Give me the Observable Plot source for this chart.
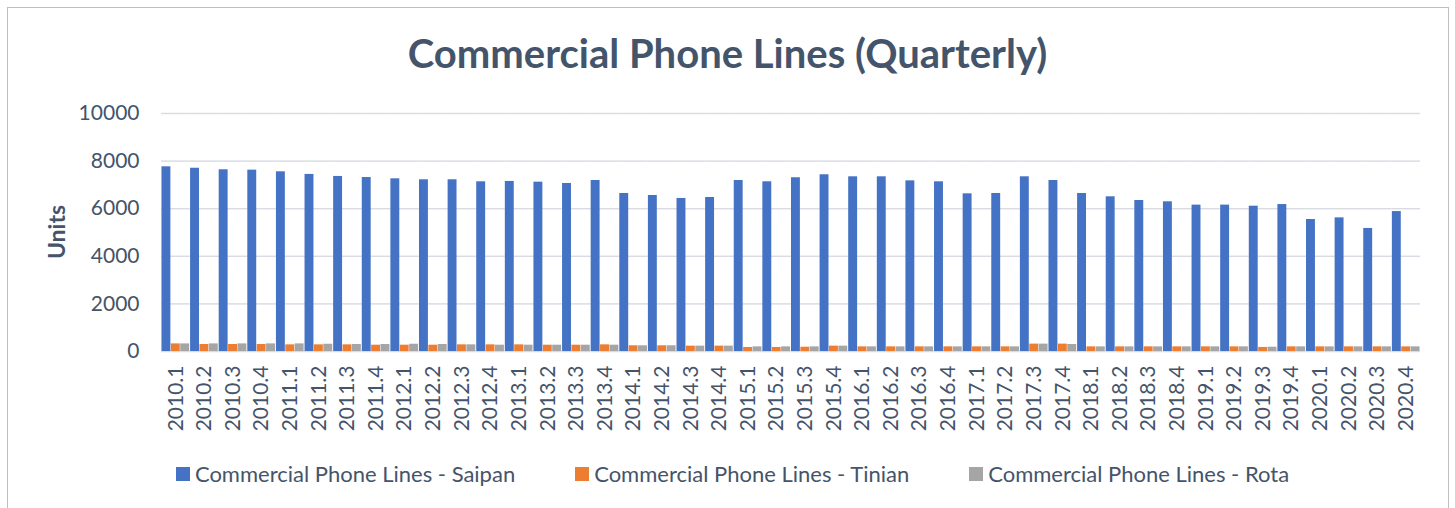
<!DOCTYPE html>
<html>
<head>
<meta charset="utf-8">
<script src="https://cdn.jsdelivr.net/npm/d3@7"></script>
<script src="https://cdn.jsdelivr.net/npm/@observablehq/plot@0.6"></script>
<style>
  body { margin: 0; background: #fff; font-family: Lato, sans-serif; }
  #frame { position: absolute; left: 7px; top: 7px; width: 1440px; height: 520px; border: 1.5px solid #bfbfbf; }
  #title { position: absolute; left: 0; top: 29px; width: 1455px; text-align: center; font-size: 40px; font-weight: bold; color: #44546a; }
  #chart { position: absolute; left: 0; top: 90px; }
  #units { position: absolute; left: 56px; top: 232px; transform: translate(-50%, -50%) rotate(-90deg); font-size: 23px; font-weight: bold; color: #44546a; white-space: nowrap; }
  #legend { position: absolute; left: 5px; top: 460px; width: 1455px; display: flex; justify-content: center; gap: 60px; font-size: 22px; color: #44546a; }
  .item { display: flex; align-items: center; white-space: nowrap; }
  .sw { width: 14px; height: 14px; margin-right: 5px; }
</style>
</head>
<body>
<div id="frame"></div>
<div id="title">Commercial Phone Lines (Quarterly)</div>
<div id="units">Units</div>
<div id="chart"></div>
<div id="legend"></div>
<script>
const categories = ["2010.1","2010.2","2010.3","2010.4","2011.1","2011.2","2011.3","2011.4",
  "2012.1","2012.2","2012.3","2012.4","2013.1","2013.2","2013.3","2013.4",
  "2014.1","2014.2","2014.3","2014.4","2015.1","2015.2","2015.3","2015.4",
  "2016.1","2016.2","2016.3","2016.4","2017.1","2017.2","2017.3","2017.4",
  "2018.1","2018.2","2018.3","2018.4","2019.1","2019.2","2019.3","2019.4",
  "2020.1","2020.2","2020.3","2020.4"];
const seriesNames = ["Commercial Phone Lines - Saipan","Commercial Phone Lines - Tinian","Commercial Phone Lines - Rota"];
const seriesColors = ["#4472c4","#ed7d31","#a5a5a5"];
const saipan = [7760,7700,7635,7620,7550,7440,7355,7310,7255,7215,7215,7130,7145,7115,7060,7185,
  6640,6555,6430,6470,7185,7130,7300,7425,7340,7340,7170,7130,6625,6640,7340,7185,
  6640,6500,6345,6290,6150,6150,6105,6175,5545,5615,5170,5880];
const tinian = [320,295,295,295,280,280,280,265,265,265,280,280,280,265,265,280,
  240,240,225,225,170,170,180,225,195,195,195,195,195,195,310,310,
  195,195,195,195,195,195,170,195,195,195,195,195];
const rota = [320,320,320,320,320,305,295,295,305,295,280,265,265,265,265,265,
  240,240,225,225,195,195,195,225,195,195,195,195,195,195,310,295,
  195,195,195,195,195,195,180,195,195,195,195,195];
const yTicks = [0,2000,4000,6000,8000,10000];

const seriesValues = [saipan, tinian, rota];
const rows = categories.flatMap((c, i) => seriesNames.map((s, k) => ({cat: c, series: s, value: seriesValues[k][i]})));

const chart = Plot.plot({
  width: 1455, height: 351,
  marginLeft: 161, marginRight: 35, marginTop: 23, marginBottom: 90,
  style: {fontFamily: "Lato, sans-serif", fontSize: "21px", color: "#44546a", background: "transparent"},
  fx: {domain: categories, padding: 0, round: false, label: null, tickRotate: -90, tickSize: 0, tickPadding: 14},
  x: {domain: seriesNames, padding: 0.05, round: false, axis: null},
  y: {domain: [0, 10000], ticks: yTicks, tickFormat: d3.format("d"), tickSize: 0, tickPadding: 22, label: null},
  color: {domain: seriesNames, range: seriesColors},
  marks: [
    Plot.gridY(yTicks, {stroke: "#d9dde3", strokeOpacity: 1, strokeWidth: 1.5}),
    Plot.barY(rows, {fx: "cat", x: "series", y: "value", fill: "series"})
  ]
});
document.getElementById("chart").appendChild(chart);

const legend = document.getElementById("legend");
seriesNames.forEach((s, k) => {
  const it = document.createElement("div");
  it.className = "item";
  const sw = document.createElement("span");
  sw.className = "sw";
  sw.style.background = seriesColors[k];
  const tx = document.createElement("span");
  tx.textContent = s;
  it.appendChild(sw); it.appendChild(tx);
  legend.appendChild(it);
});
</script>
</body>
</html>
